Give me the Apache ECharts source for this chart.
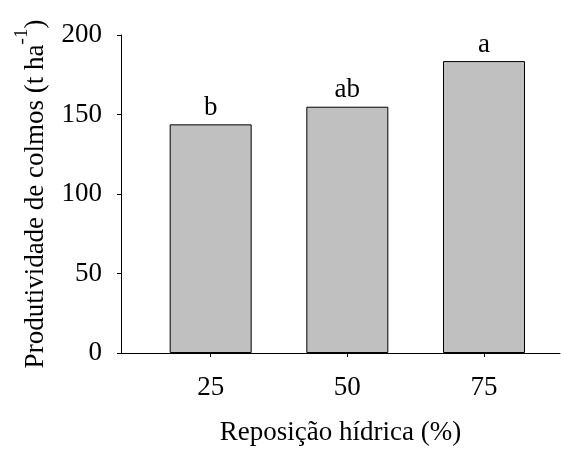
<!DOCTYPE html>
<html><head><meta charset="utf-8">
<script src="https://cdn.jsdelivr.net/npm/echarts@6/dist/echarts.min.js"></script>
<style>html,body{margin:0;padding:0;background:#fff;overflow:hidden}#c{width:561px;height:451px}</style>
</head><body><div id="c"></div>
<script>
const categories = [25, 50, 75];
const values = [143.8, 154.9, 183.6];
const letters = ['b', 'ab', 'a'];
const yTicks = [0, 50, 100, 150, 200];

const FONT = '"Liberation Serif", "Times New Roman", serif';
const FS = 27;
const chart = echarts.init(document.getElementById('c'), null, { width: 561, height: 451 });
chart.setOption({
  animation: false,
  backgroundColor: '#fff',
  grid: { left: 121, top: 35, width: 439, height: 325, containLabel: false },
  xAxis: {
    type: 'value', min: 8.6, max: 88.9,
    name: 'Reposição hídrica (%)', nameLocation: 'middle', nameGap: 66,
    nameTextStyle: { fontFamily: FONT, fontSize: FS, color: '#000' },
    axisLine: { lineStyle: { color: '#000', width: 1 } },
    axisTick: { show: true, length: 4, customValues: categories, lineStyle: { color: '#000' } },
    axisLabel: { customValues: categories, margin: 21, fontFamily: FONT, fontSize: FS, color: '#000' },
    splitLine: { show: false }
  },
  yAxis: {
    type: 'value', min: 0, max: 200, interval: 50,
    name: '{n|Produtividade de colmos (t ha}{s|-1}{n|)}', nameLocation: 'middle', nameGap: 72, nameRotate: 90,
    nameTextStyle: { fontFamily: FONT, fontSize: FS, color: '#000',
      rich: { n: { fontFamily: FONT, fontSize: FS, color: '#000', verticalAlign: 'bottom' },
              s: { fontFamily: FONT, fontSize: 19, color: '#000', verticalAlign: 'top', padding: [0, 0, 17, 0] } } },
    axisLine: { show: true, lineStyle: { color: '#000', width: 1 } },
    axisTick: { show: true, length: 4, lineStyle: { color: '#000' } },
    axisLabel: { margin: 19, fontFamily: FONT, fontSize: FS, color: '#000', formatter: v => yTicks.includes(v) ? String(v) : '' },
    splitLine: { show: false }
  },
  series: [{
    type: 'bar', barWidth: 82,
    data: categories.map((c, i) => ({ value: [c, values[i]], label: { formatter: letters[i] } })),
    itemStyle: { color: '#c0c0c0', borderColor: '#000', borderWidth: 1 },
    label: { show: true, position: 'top', distance: 3, fontFamily: FONT, fontSize: FS, color: '#000' }
  }]
});
</script></body></html>
